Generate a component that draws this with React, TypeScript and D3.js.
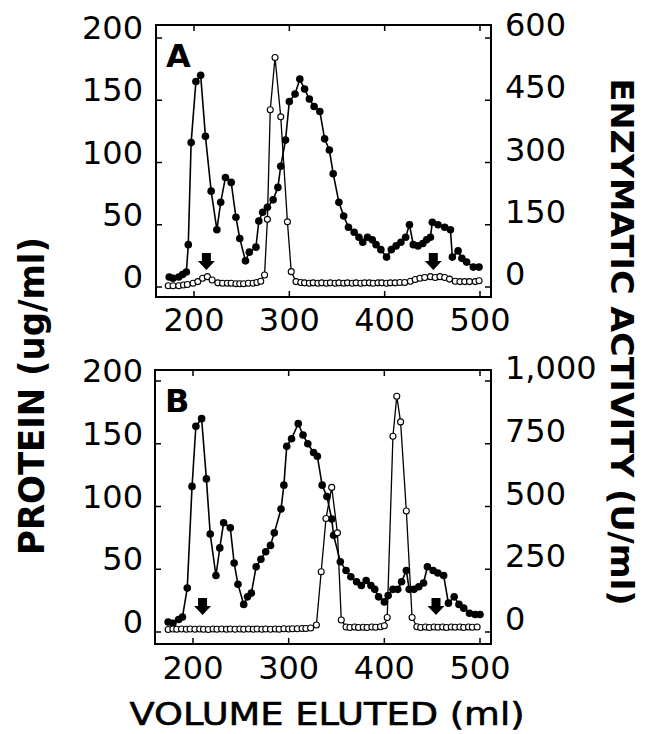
import React from "react";
import * as d3 from "d3";

const FONT = "'DejaVu Sans', sans-serif";

// volume eluted (ml) ticks and axis ticks
const volTicks = [200, 300, 400, 500];
const proteinTicks = [0, 50, 100, 150, 200];
const activityTicksA = [0, 150, 300, 450, 600];
const activityTicksB = [0, 250, 500, 750, 1000];

// panel A: protein (ug/ml) vs volume
const aProtein: [number, number][] = [
  [174, 8], [178, 7], [184, 8], [188, 10], [192, 12], [194, 34], [197, 116], [202, 165],
  [207, 170], [212, 121], [218, 77], [224, 46], [228, 68], [233, 88], [239, 84], [244, 56],
  [248, 39], [254, 21], [258, 28], [265, 32], [268, 53], [272, 60], [277, 64], [283, 70],
  [288, 80], [291, 97], [296, 118], [300, 149], [306, 155], [311, 167], [316, 159], [321, 151],
  [326, 145], [332, 141], [337, 119], [342, 110], [346, 91], [352, 68], [357, 57], [362, 48],
  [368, 44], [373, 40], [377, 36], [382, 40], [387, 38], [391, 34], [396, 30], [402, 24],
  [407, 30], [412, 33], [417, 36], [422, 40], [426, 50], [430, 34], [435, 33], [440, 35],
  [444, 38], [448, 40], [450, 52], [456, 50], [463, 48], [469, 46], [471, 24], [477, 29],
  [481, 23], [486, 20], [493, 16], [499, 16],
];

// panel A: enzymatic activity (U/ml)
const aActivity: [number, number][] = [
  [173, 3], [178, 3], [184, 3], [189, 5], [193, 6], [199, 9], [204, 13], [209, 21],
  [214, 25], [219, 17], [225, 10], [230, 9], [235, 9], [239, 9], [244, 8], [248, 8],
  [252, 8], [257, 9], [262, 9], [266, 11], [270, 14], [274, 29], [277, 163], [280, 427],
  [285, 553], [291, 410], [298, 157], [302, 37], [307, 13], [312, 11], [316, 10], [321, 9],
  [325, 10], [330, 9], [334, 10], [339, 9], [343, 10], [348, 9], [352, 10], [357, 9],
  [361, 10], [366, 9], [370, 10], [375, 9], [379, 10], [384, 10], [388, 9], [393, 10],
  [397, 10], [402, 9], [406, 10], [411, 10], [416, 11], [421, 11], [427, 14], [432, 18],
  [437, 21], [442, 23], [448, 25], [453, 23], [458, 25], [463, 23], [468, 19], [474, 14],
  [479, 13], [484, 13], [489, 13], [495, 13], [499, 15],
];

// panel B: protein (ug/ml)
const bProtein: [number, number][] = [
  [174, 8], [179, 7], [185, 10], [189, 12], [194, 35], [199, 116], [203, 164], [209, 170],
  [214, 122], [218, 78], [224, 45], [228, 67], [232, 87], [239, 83], [243, 55], [247, 38],
  [253, 22], [257, 28], [261, 31], [266, 52], [271, 58], [276, 64], [281, 69], [285, 79],
  [292, 98], [295, 117], [298, 148], [303, 154], [310, 166], [315, 157], [320, 150], [326, 143],
  [330, 140], [335, 117], [340, 108], [345, 90], [347, 77], [354, 56], [360, 49], [365, 44],
  [371, 40], [376, 37], [381, 41], [386, 37], [390, 34], [394, 28], [400, 24], [404, 29],
  [409, 34], [414, 34], [418, 40], [423, 49], [426, 34], [431, 34], [436, 36], [441, 39],
  [445, 52], [451, 49], [456, 47], [462, 45], [467, 23], [473, 28], [478, 22], [483, 19],
  [489, 15], [495, 14], [500, 14],
];

// panel B: enzymatic activity (U/ml)
const bActivity: [number, number][] = [
  [174, 10], [179, 12], [183, 11], [188, 12], [193, 11], [197, 12], [202, 11], [207, 12],
  [211, 11], [216, 10], [221, 12], [225, 11], [230, 12], [235, 11], [239, 12], [244, 11],
  [249, 12], [253, 11], [258, 12], [263, 11], [267, 12], [272, 11], [276, 12], [281, 11],
  [286, 12], [290, 11], [295, 13], [300, 12], [304, 13], [309, 13], [314, 14], [318, 14],
  [323, 16], [329, 28], [334, 240], [339, 452], [345, 576], [351, 395], [355, 48], [360, 20],
  [364, 18], [369, 20], [373, 18], [378, 19], [382, 18], [387, 20], [391, 19], [396, 21],
  [400, 25], [403, 58], [409, 780], [413, 939], [417, 837], [423, 482], [429, 58], [434, 21],
  [438, 18], [443, 20], [447, 18], [452, 20], [456, 19], [461, 20], [465, 18], [470, 20],
  [474, 19], [479, 20], [483, 18], [488, 20], [492, 19], [497, 20],
];

// fraction pool markers (arrows)
const aArrows = [213, 451];
const bArrows = [210, 454];

type Pt = [number, number];

function Panel(props: {
  letter: string;
  protein: Pt[];
  activity: Pt[];
  arrows: number[];
  actTicks: number[];
  xRange: [number, number];
  yRange: [number, number];
  box: { top: number; bottom: number; left: number; right: number };
  labelY: number;
}) {
  const { letter, protein, activity, arrows, actTicks, xRange, yRange, box, labelY } = props;
  const x = d3.scaleLinear().domain([200, 500]).range(xRange);
  const yP = d3.scaleLinear().domain([0, 200]).range(yRange);
  const yA = d3.scaleLinear().domain([0, actTicks[actTicks.length - 1]]).range(yRange);
  const lineP = d3.line<Pt>().x((d) => x(d[0])).y((d) => yP(d[1]));
  const lineA = d3.line<Pt>().x((d) => x(d[0])).y((d) => yA(d[1]));
  const fmt = d3.format(",");
  const tl = 6;

  return (
    <g>
      <rect
        x={box.left}
        y={box.top}
        width={box.right - box.left}
        height={box.bottom - box.top}
        fill="none"
        stroke="#000"
        strokeWidth={2}
      />
      {volTicks.map((t) => (
        <g key={"x" + t}>
          <line x1={x(t)} x2={x(t)} y1={box.bottom} y2={box.bottom - tl} stroke="#000" strokeWidth={1.5} />
          <line x1={x(t)} x2={x(t)} y1={box.top} y2={box.top + tl} stroke="#000" strokeWidth={1.5} />
          <text x={x(t)} y={labelY} textAnchor="middle" fontFamily={FONT} fontSize={32}>
            {t}
          </text>
        </g>
      ))}
      {proteinTicks.map((t) => (
        <g key={"p" + t}>
          <line x1={box.left} x2={box.left + tl} y1={yP(t)} y2={yP(t)} stroke="#000" strokeWidth={1.5} />
          <text x={143} y={yP(t) + 1} textAnchor="end" fontFamily={FONT} fontSize={32}>
            {t}
          </text>
        </g>
      ))}
      {actTicks.map((t) => (
        <g key={"a" + t}>
          <line x1={box.right} x2={box.right - tl} y1={yA(t)} y2={yA(t)} stroke="#000" strokeWidth={1.5} />
          <text x={505} y={yA(t) - 2} textAnchor="start" fontFamily={FONT} fontSize={32}>
            {fmt(t)}
          </text>
        </g>
      ))}
      <text x={box.left + 10} y={box.top + 42} fontFamily={FONT} fontWeight="bold" fontSize={32}>
        {letter}
      </text>

      <path d={lineP(protein) || ""} fill="none" stroke="#000" strokeWidth={1.6} />
      <path d={lineA(activity) || ""} fill="none" stroke="#000" strokeWidth={1.3} />
      {protein.map((d, i) => (
        <circle key={"fp" + i} cx={x(d[0])} cy={yP(d[1])} r={3.8} fill="#000" />
      ))}
      {activity.map((d, i) => (
        <circle key={"oa" + i} cx={x(d[0])} cy={yA(d[1])} r={3} fill="#fff" stroke="#000" strokeWidth={1.1} />
      ))}
      {arrows.map((v, i) => {
        const cx = x(v);
        const ty = yP(0) - 17;
        const p = [
          [cx - 4.5, ty - 17], [cx + 4.5, ty - 17], [cx + 4.5, ty - 9], [cx + 8.5, ty - 9],
          [cx, ty], [cx - 8.5, ty - 9], [cx - 4.5, ty - 9],
        ];
        return <path key={"ar" + i} d={"M" + p.map((q) => q.join(",")).join("L") + "Z"} fill="#000" />;
      })}
    </g>
  );
}

export default function App() {
  const width = 655;
  const height = 734;
  return (
    <svg
      width={width}
      height={height}
      style={{ position: "absolute", left: 0, top: 0, background: "#fff" }}
    >
      <rect width={width} height={height} fill="#fff" />
      <Panel
        letter="A"
        protein={aProtein}
        activity={aActivity}
        arrows={aArrows}
        actTicks={activityTicksA}
        xRange={[194, 480]}
        yRange={[287, 38]}
        box={{ top: 25, bottom: 297, left: 156, right: 491 }}
        labelY={331}
      />
      <Panel
        letter="B"
        protein={bProtein}
        activity={bActivity}
        arrows={bArrows}
        actTicks={activityTicksB}
        xRange={[193, 480]}
        yRange={[632, 381]}
        box={{ top: 370, bottom: 644, left: 155, right: 491 }}
        labelY={679}
      />
      <text
        transform="translate(44,396) rotate(-90)"
        textAnchor="middle"
        fontFamily={FONT}
        fontWeight="bold"
        fontSize={36}
        textLength={318}
        lengthAdjust="spacingAndGlyphs"
      >
        PROTEIN  (ug/ml)
      </text>
      <text
        transform="translate(611,342) rotate(90)"
        textAnchor="middle"
        fontFamily={FONT}
        fontWeight="bold"
        fontSize={32}
        textLength={527}
        lengthAdjust="spacingAndGlyphs"
      >
        ENZYMATIC  ACTIVITY  (U/ml)
      </text>
      <text
        x={327}
        y={725}
        textAnchor="middle"
        fontFamily={FONT}
        fontSize={32}
        stroke="#000"
        strokeWidth={0.6}
        textLength={395}
        lengthAdjust="spacingAndGlyphs"
      >
        VOLUME ELUTED (ml)
      </text>
    </svg>
  );
}
